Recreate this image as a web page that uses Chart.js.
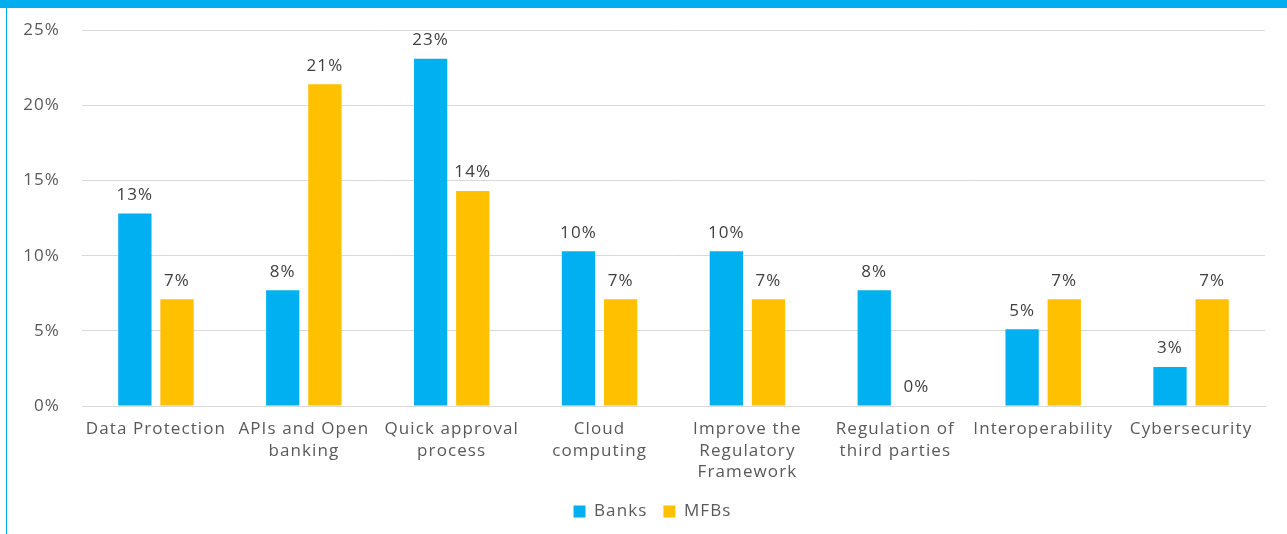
<!DOCTYPE html>
<html>
<head>
<meta charset="utf-8">
<script src="https://cdn.jsdelivr.net/npm/chart.js@4"></script>
<style>
  html, body { margin: 0; padding: 0; background: #fff; }
  body { width: 1287px; height: 534px; position: relative; overflow: hidden; }
  .topband { position: absolute; left: 0; top: 0; width: 1287px; height: 8px; background: #00AEEF; }
  .leftline { position: absolute; left: 6px; top: 8px; width: 1px; height: 526px; background: #00AEEF; }
  .wrap { position: absolute; left: 0; top: -2px; width: 1287px; height: 534px; }
</style>
</head>
<body>
<div class="wrap"><canvas id="chart"></canvas></div>
<div class="topband"></div>
<div class="leftline"></div>
<script>
// Survey categories and share of respondents (%) per institution type
const categories = [
  "Data Protection",
  ["APIs and Open", "banking"],
  ["Quick approval", "process"],
  ["Cloud", "computing"],
  ["Improve the", "Regulatory", "Framework"],
  ["Regulation of", "third parties"],
  "Interoperability",
  "Cybersecurity"
];
const banks = [12.8, 7.7, 23.1, 10.3, 10.3, 7.7, 5.1, 2.6];
const mfbs  = [7.1, 21.4, 14.3, 7.1, 7.1, 0, 7.1, 7.1];
const yTicks = [0, 5, 10, 15, 20, 25];

const FONT = "'Open Sans', 'Noto Sans', sans-serif";
const SPACING = '1.1px';

// Slightly wider letter spacing for all canvas text
const spacing = {
  id: 'spacing',
  beforeUpdate(chart) { chart.ctx.letterSpacing = SPACING; },
  beforeDraw(chart) { chart.ctx.letterSpacing = SPACING; }
};

// Nudges the legend a little to the right of the canvas centre
const legendShift = {
  id: 'legendShift',
  afterLayout(chart) {
    if (chart.legend) { chart.legend.left += 20; chart.legend.right += 20; }
  }
};

// Writes each bar's rounded value just above it
const valueLabels = {
  id: 'valueLabels',
  afterDatasetsDraw(chart) {
    const ctx = chart.ctx;
    ctx.save();
    ctx.letterSpacing = SPACING;
    ctx.font = "17px " + FONT;
    ctx.fillStyle = '#404040';
    ctx.textAlign = 'center';
    ctx.textBaseline = 'bottom';
    chart.data.datasets.forEach((ds, i) => {
      chart.getDatasetMeta(i).data.forEach((bar, j) => {
        ctx.fillText(Math.round(ds.data[j]) + '%', bar.x, bar.y - 10);
      });
    });
    ctx.restore();
  }
};

new Chart(document.getElementById('chart'), {
  type: 'bar',
  data: {
    labels: categories,
    datasets: [
      { label: 'Banks', data: banks, backgroundColor: '#00B0F0' },
      { label: 'MFBs', data: mfbs, backgroundColor: '#FFC000' }
    ]
  },
  options: {
    responsive: true,
    maintainAspectRatio: false,
    animation: false,
    categoryPercentage: 0.57,
    barPercentage: 0.79,
    layout: { padding: { left: 0, right: 22, top: 22, bottom: 2 } },
    plugins: {
      legend: {
        position: 'bottom',
        labels: {
          font: { family: FONT, size: 17 },
          color: '#595959',
          boxWidth: 12,
          boxHeight: 12,
          padding: 16
        }
      },
      tooltip: { enabled: false }
    },
    scales: {
      x: {
        grid: { display: false },
        border: { color: '#d9d9d9' },
        ticks: {
          font: { family: FONT, size: 17, lineHeight: 1.25 },
          color: '#595959',
          maxRotation: 0,
          autoSkip: false,
          padding: 5
        },
        afterFit(scale) { scale.height = 81; }
      },
      y: {
        min: 0,
        max: 25,
        afterBuildTicks(scale) { scale.ticks = yTicks.map(v => ({ value: v })); },
        grid: { color: '#d9d9d9', drawTicks: false },
        border: { display: false },
        ticks: {
          font: { family: FONT, size: 17 },
          color: '#595959',
          padding: 22,
          callback: v => v + '%'
        },
        afterFit(scale) { scale.width = 82; }
      }
    }
  },
  plugins: [spacing, legendShift, valueLabels]
});
</script>
</body>
</html>
